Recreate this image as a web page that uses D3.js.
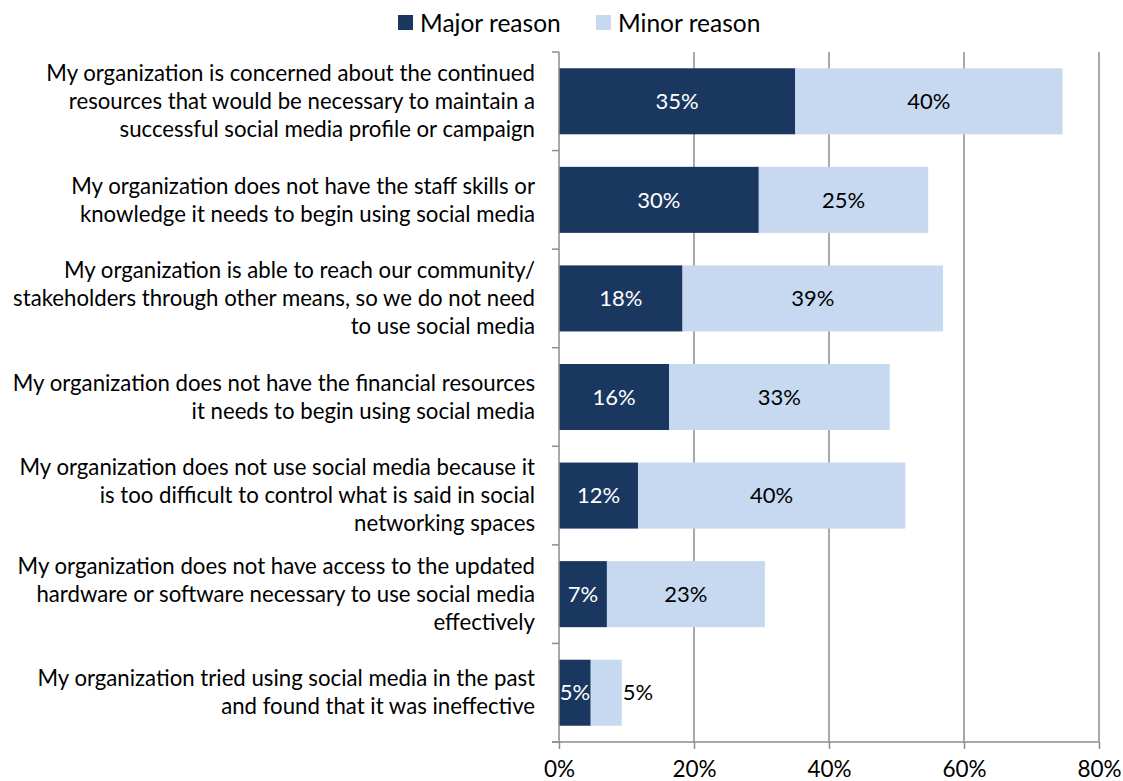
<!DOCTYPE html>
<html><head><meta charset="utf-8">
<script src="https://cdn.jsdelivr.net/npm/d3@7"></script>
<style>body{margin:0;background:#fff}svg{display:block}text{font-family:Lato,"Open Sans",sans-serif}</style>
</head><body><svg id="c" width="1123" height="781"></svg>
<script>
const categories = [
  ["My organization is concerned about the continued","resources that would be necessary to maintain a","successful social media profile or campaign"],
  ["My organization does not have the staff skills or","knowledge it needs to begin using social media"],
  ["My organization is able to reach our community/","stakeholders through other means, so we do not need","to use social media"],
  ["My organization does not have the financial resources","it needs to begin using social media"],
  ["My organization does not use social media because it","is too difficult to control what is said in social","networking spaces"],
  ["My organization does not have access to the updated","hardware or software necessary to use social media","effectively"],
  ["My organization tried using social media in the past","and found that it was ineffective"]
];
const seriesNames = ["Major reason","Minor reason"];
const major = [35.0, 29.6, 18.3, 16.3, 11.7, 7.1, 4.7];
const minor = [39.6, 25.1, 38.6, 32.7, 39.6, 23.4, 4.6];
const xTicks = [0, 20, 40, 60, 80];
const colors = ["#1a385f", "#c6d9f1"];

const svg = d3.select("#c");
const pLeft = 559, pRight = 1099, pTop = 52, pBottom = 742;
const x = d3.scaleLinear().domain([0, 80]).range([pLeft, pRight]);
const y = d3.scaleBand().domain(d3.range(categories.length)).range([pTop, pBottom]).paddingInner(0.33).paddingOuter(0.165);
const grid = "#8c8c8c";

// gridlines
svg.append("g").selectAll("line").data(xTicks.slice(1)).join("line")
  .attr("x1", d => x(d)).attr("x2", d => x(d)).attr("y1", pTop).attr("y2", pBottom)
  .attr("stroke", grid).attr("stroke-width", 1.5);

// bars
const rows = categories.map((c, i) => ({i, vals: [major[i], minor[i]]}));
rows.forEach(r => {
  let acc = 0;
  r.vals.forEach((v, s) => {
    const x0 = acc; acc += v;
    svg.append("rect").attr("x", x(x0)).attr("y", y(r.i)).attr("width", x(acc) - x(x0)).attr("height", y.bandwidth())
      .attr("fill", colors[s]);
    const w = x(acc) - x(x0);
    const narrow = s === 1 && w < 40;
    svg.append("text")
      .attr("x", narrow ? x(acc) + 1 : (x(x0) + x(acc)) / 2)
      .attr("y", y(r.i) + y.bandwidth() / 2)
      .attr("dy", "0.35em").attr("text-anchor", narrow ? "start" : "middle")
      .attr("font-size", 22).attr("fill", s === 0 ? "#fff" : "#000")
      .text(d3.format(".0f")(v) + "%");
  });
});

// y axis
const ya = svg.append("g");
ya.append("line").attr("x1", pLeft).attr("x2", pLeft).attr("y1", pTop).attr("y2", pBottom).attr("stroke", grid).attr("stroke-width", 1.5);
const step = (pBottom - pTop) / categories.length;
d3.range(categories.length + 1).forEach(k => {
  ya.append("line").attr("x1", pLeft - 7).attr("x2", pLeft).attr("y1", pTop + k * step).attr("y2", pTop + k * step).attr("stroke", grid).attr("stroke-width", 1.5);
});
// x axis
const xa = svg.append("g").attr("transform", `translate(0,${pBottom})`)
  .call(d3.axisBottom(x).tickValues(xTicks).tickSize(7).tickSizeOuter(0).tickFormat(d => d + "%"));
xa.select(".domain").remove();
xa.append("line").attr("x1", pLeft - 7).attr("x2", pRight).attr("stroke", grid).attr("stroke-width", 1.5);
xa.selectAll(".tick line").attr("stroke", grid).attr("stroke-width", 1.5);
xa.selectAll(".tick text").attr("font-size", 22.5).attr("fill", "#000").attr("y", 19).attr("dy", "0.71em").style("font-family", "Lato");

// category labels
const lh = 28;
categories.forEach((lines, i) => {
  const cy = y(i) + y.bandwidth() / 2;
  const t = svg.append("text").attr("text-anchor", "end").attr("font-size", 22.2).attr("fill", "#000");
  lines.forEach((l, j) => {
    t.append("tspan").attr("x", 535).attr("y", cy + (j - (lines.length - 1) / 2) * lh).attr("dy", "0.35em").text(l);
  });
});

// legend
const lg = svg.append("g");
const legX = [398, 596];
seriesNames.forEach((n, s) => {
  lg.append("rect").attr("x", legX[s]).attr("y", 15).attr("width", 15).attr("height", 15).attr("fill", colors[s]);
  lg.append("text").attr("x", legX[s] + 22).attr("y", 23).attr("dy", "0.35em").attr("font-size", 24.5).attr("fill", "#000").text(n);
});
</script></body></html>
